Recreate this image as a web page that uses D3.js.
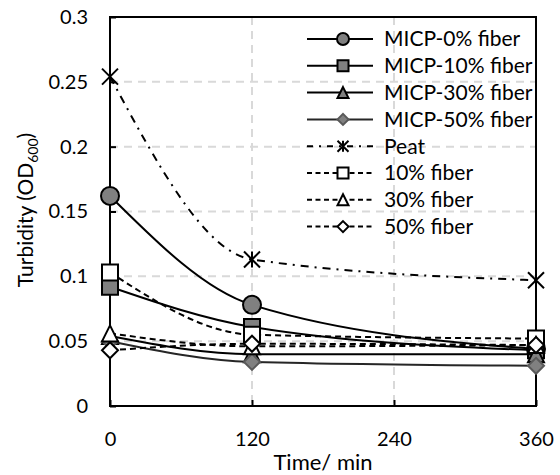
<!DOCTYPE html>
<html>
<head>
<meta charset="utf-8">
<script src="https://cdn.jsdelivr.net/npm/d3@7"></script>
<style>
body { margin:0; background:#fff; }
text { font-family: Lato, "Open Sans", sans-serif; fill:#000; }
</style>
</head>
<body>
<svg id="chart"></svg>
<script>
//----------data-------------
var times = [0, 120, 360]
var xTicks = [0, 120, 240, 360]
var yTicks = [0, 0.05, 0.1, 0.15, 0.2, 0.25, 0.3]

var micp0 = [0.162, 0.078, 0.044]
var micp10 = [0.092, 0.061, 0.043]
var micp30 = [0.054, 0.040, 0.040]
var micp50 = [0.050, 0.034, 0.031]
var peat = [0.254, 0.113, 0.097]
var fiber10 = [0.103, 0.055, 0.052]
var fiber30 = [0.056, 0.046, 0.047]
var fiber50 = [0.043, 0.048, 0.047]

var names = ["MICP-0% fiber", "MICP-10% fiber", "MICP-30% fiber", "MICP-50% fiber",
	"Peat", "10% fiber", "30% fiber", "50% fiber"]
var allValues = [micp0, micp10, micp30, micp50, peat, fiber10, fiber30, fiber50]

// styles per series
var styles = [
	{shape:"circle", fill:"#808080", stroke:"#000", dash:null, lineColor:"#000"},
	{shape:"square", fill:"#808080", stroke:"#000", dash:null, lineColor:"#000"},
	{shape:"triangle", fill:"#808080", stroke:"#000", dash:null, lineColor:"#000"},
	{shape:"diamond", fill:"#808080", stroke:"#595959", dash:null, lineColor:"#262626"},
	{shape:"star", fill:"none", stroke:"#000", dash:"8,6,2,6", lineColor:"#000"},
	{shape:"square", fill:"#fff", stroke:"#000", dash:"6,4", lineColor:"#000"},
	{shape:"triangle", fill:"#fff", stroke:"#000", dash:"6,4", lineColor:"#000"},
	{shape:"diamond", fill:"#fff", stroke:"#000", dash:"6,4", lineColor:"#000"}
]

var series = names.map(function(n, i) {
	return {name:n, style:styles[i], points: times.map(function(t, j) { return {t:t, v:allValues[i][j]} })}
})

//----------markers-------------
var markerPath = function(shape, s)
{
	var h = s / 2
	if (shape == "circle") {
		return "M" + (-h) + ",0A" + h + "," + h + " 0 1,0 " + h + ",0A" + h + "," + h + " 0 1,0 " + (-h) + ",0Z"
	}
	if (shape == "square") {
		return "M" + (-h) + "," + (-h) + "H" + h + "V" + h + "H" + (-h) + "Z"
	}
	if (shape == "triangle") {
		return "M0," + (-h) + "L" + h + "," + h + "L" + (-h) + "," + h + "Z"
	}
	if (shape == "diamond") {
		return "M0," + (-h) + "L" + h + ",0L0," + h + "L" + (-h) + ",0Z"
	}
	// star: X with vertical bar
	return "M" + (-h) + "," + (-h) + "L" + h + "," + h + "M" + h + "," + (-h) + "L" + (-h) + "," + h +
		"M0," + (-h) + "L0," + h
}

//---------makegraph---------
var screen = {width:560, height:475}
var margins = {left:110, right:24, top:17, bottom:69}
var graph = {
	width: screen.width - margins.left - margins.right,
	height: screen.height - margins.top - margins.bottom
}

var svg = d3.select("#chart")
	.attr("width", screen.width)
	.attr("height", screen.height)

var xScale = d3.scaleLinear().domain([0, 360]).range([0, graph.width])
var yScale = d3.scaleLinear().domain([0, 0.3]).range([graph.height, 0])

var target = svg.append("g")
	.attr("transform", "translate(" + margins.left + "," + margins.top + ")")

// grid
target.append("g")
	.selectAll("line")
	.data(yTicks.slice(1, -1))
	.enter()
	.append("line")
	.attr("x1", 0).attr("x2", graph.width)
	.attr("y1", function(d) { return yScale(d) })
	.attr("y2", function(d) { return yScale(d) })
	.attr("stroke", "#d9d9d9").attr("stroke-width", 2).attr("stroke-dasharray", "8,6")

target.append("g")
	.selectAll("line")
	.data(xTicks.slice(1, -1))
	.enter()
	.append("line")
	.attr("y1", 0).attr("y2", graph.height)
	.attr("x1", function(d) { return xScale(d) })
	.attr("x2", function(d) { return xScale(d) })
	.attr("stroke", "#d9d9d9").attr("stroke-width", 2).attr("stroke-dasharray", "8,6")

// axes (ticks inside)
var xAxis = d3.axisBottom(xScale).tickValues(xTicks).tickSizeInner(-6).tickSizeOuter(0).tickPadding(26)
var gx = target.append("g")
	.attr("transform", "translate(0," + graph.height + ")")
	.call(xAxis)
var yAxis = d3.axisLeft(yScale).tickValues(yTicks).tickSizeInner(-6).tickSizeOuter(0).tickPadding(22)
	.tickFormat(function(d) { return d == 0 ? "0" : String(+d.toFixed(2)) })
var gy = target.append("g").call(yAxis)

svg.selectAll(".domain").remove()
svg.selectAll(".tick line").attr("stroke", "#000").attr("stroke-width", 2)
svg.selectAll(".tick text").style("font-size", "20px").style("font-family", "Lato, 'Open Sans', sans-serif")

// frame
target.append("rect")
	.attr("x", 0).attr("y", 0)
	.attr("width", graph.width).attr("height", graph.height)
	.attr("fill", "none").attr("stroke", "#000").attr("stroke-width", 2)

// series
var line = d3.line()
	.x(function(d) { return xScale(d.t) })
	.y(function(d) { return yScale(d.v) })
	.curve(d3.curveMonotoneX)

series.forEach(function(s) {
	var g = target.append("g")
	g.append("path")
		.attr("d", line(s.points))
		.attr("fill", "none")
		.attr("stroke", s.style.lineColor)
		.attr("stroke-width", 2)
		.attr("stroke-dasharray", s.style.dash)

	g.selectAll("path.mk")
		.data(s.points)
		.enter()
		.append("path")
		.attr("class", "mk")
		.attr("d", markerPath(s.style.shape, s.style.shape == "circle" ? 18 : 16))
		.attr("transform", function(d) { return "translate(" + xScale(d.t) + "," + yScale(d.v) + ")" })
		.attr("fill", s.style.fill)
		.attr("stroke", s.style.stroke)
		.attr("stroke-width", 2)
})

// legend
var legend = svg.append("g").attr("transform", "translate(307,39)")
var rows = legend.selectAll("g")
	.data(series)
	.enter()
	.append("g")
	.attr("transform", function(d, i) { return "translate(0," + (i * 26.8) + ")" })

rows.append("line")
	.attr("x1", 0).attr("x2", 66).attr("y1", 0).attr("y2", 0)
	.attr("stroke", function(d) { return d.style.lineColor })
	.attr("stroke-width", 2)
	.attr("stroke-dasharray", function(d) { return d.style.shape == "star" ? "6,6,2,6" : (d.style.dash ? "5,3.5" : null) })

rows.append("path")
	.attr("d", function(d) { return markerPath(d.style.shape, d.style.shape == "circle" ? 12 : 11) })
	.attr("transform", "translate(36,0)")
	.attr("fill", function(d) { return d.style.fill })
	.attr("stroke", function(d) { return d.style.stroke })
	.attr("stroke-width", 2)

rows.append("text")
	.attr("x", 77).attr("y", 0).attr("dy", "0.35em")
	.style("font-size", "21px")
	.text(function(d) { return d.name })

// axis labels
svg.append("text")
	.attr("x", margins.left + graph.width / 2).attr("y", 470)
	.attr("text-anchor", "middle")
	.style("font-size", "22px")
	.text("Time/ min")

var yl = svg.append("text")
	.attr("transform", "translate(33,210) rotate(-90)")
	.attr("text-anchor", "middle")
	.style("font-size", "21px")
yl.append("tspan").text("Turbidity (OD")
yl.append("tspan").attr("dy", 5).style("font-size", "14px").text("600")
yl.append("tspan").attr("dy", -5).text(")")
</script>
</body>
</html>
